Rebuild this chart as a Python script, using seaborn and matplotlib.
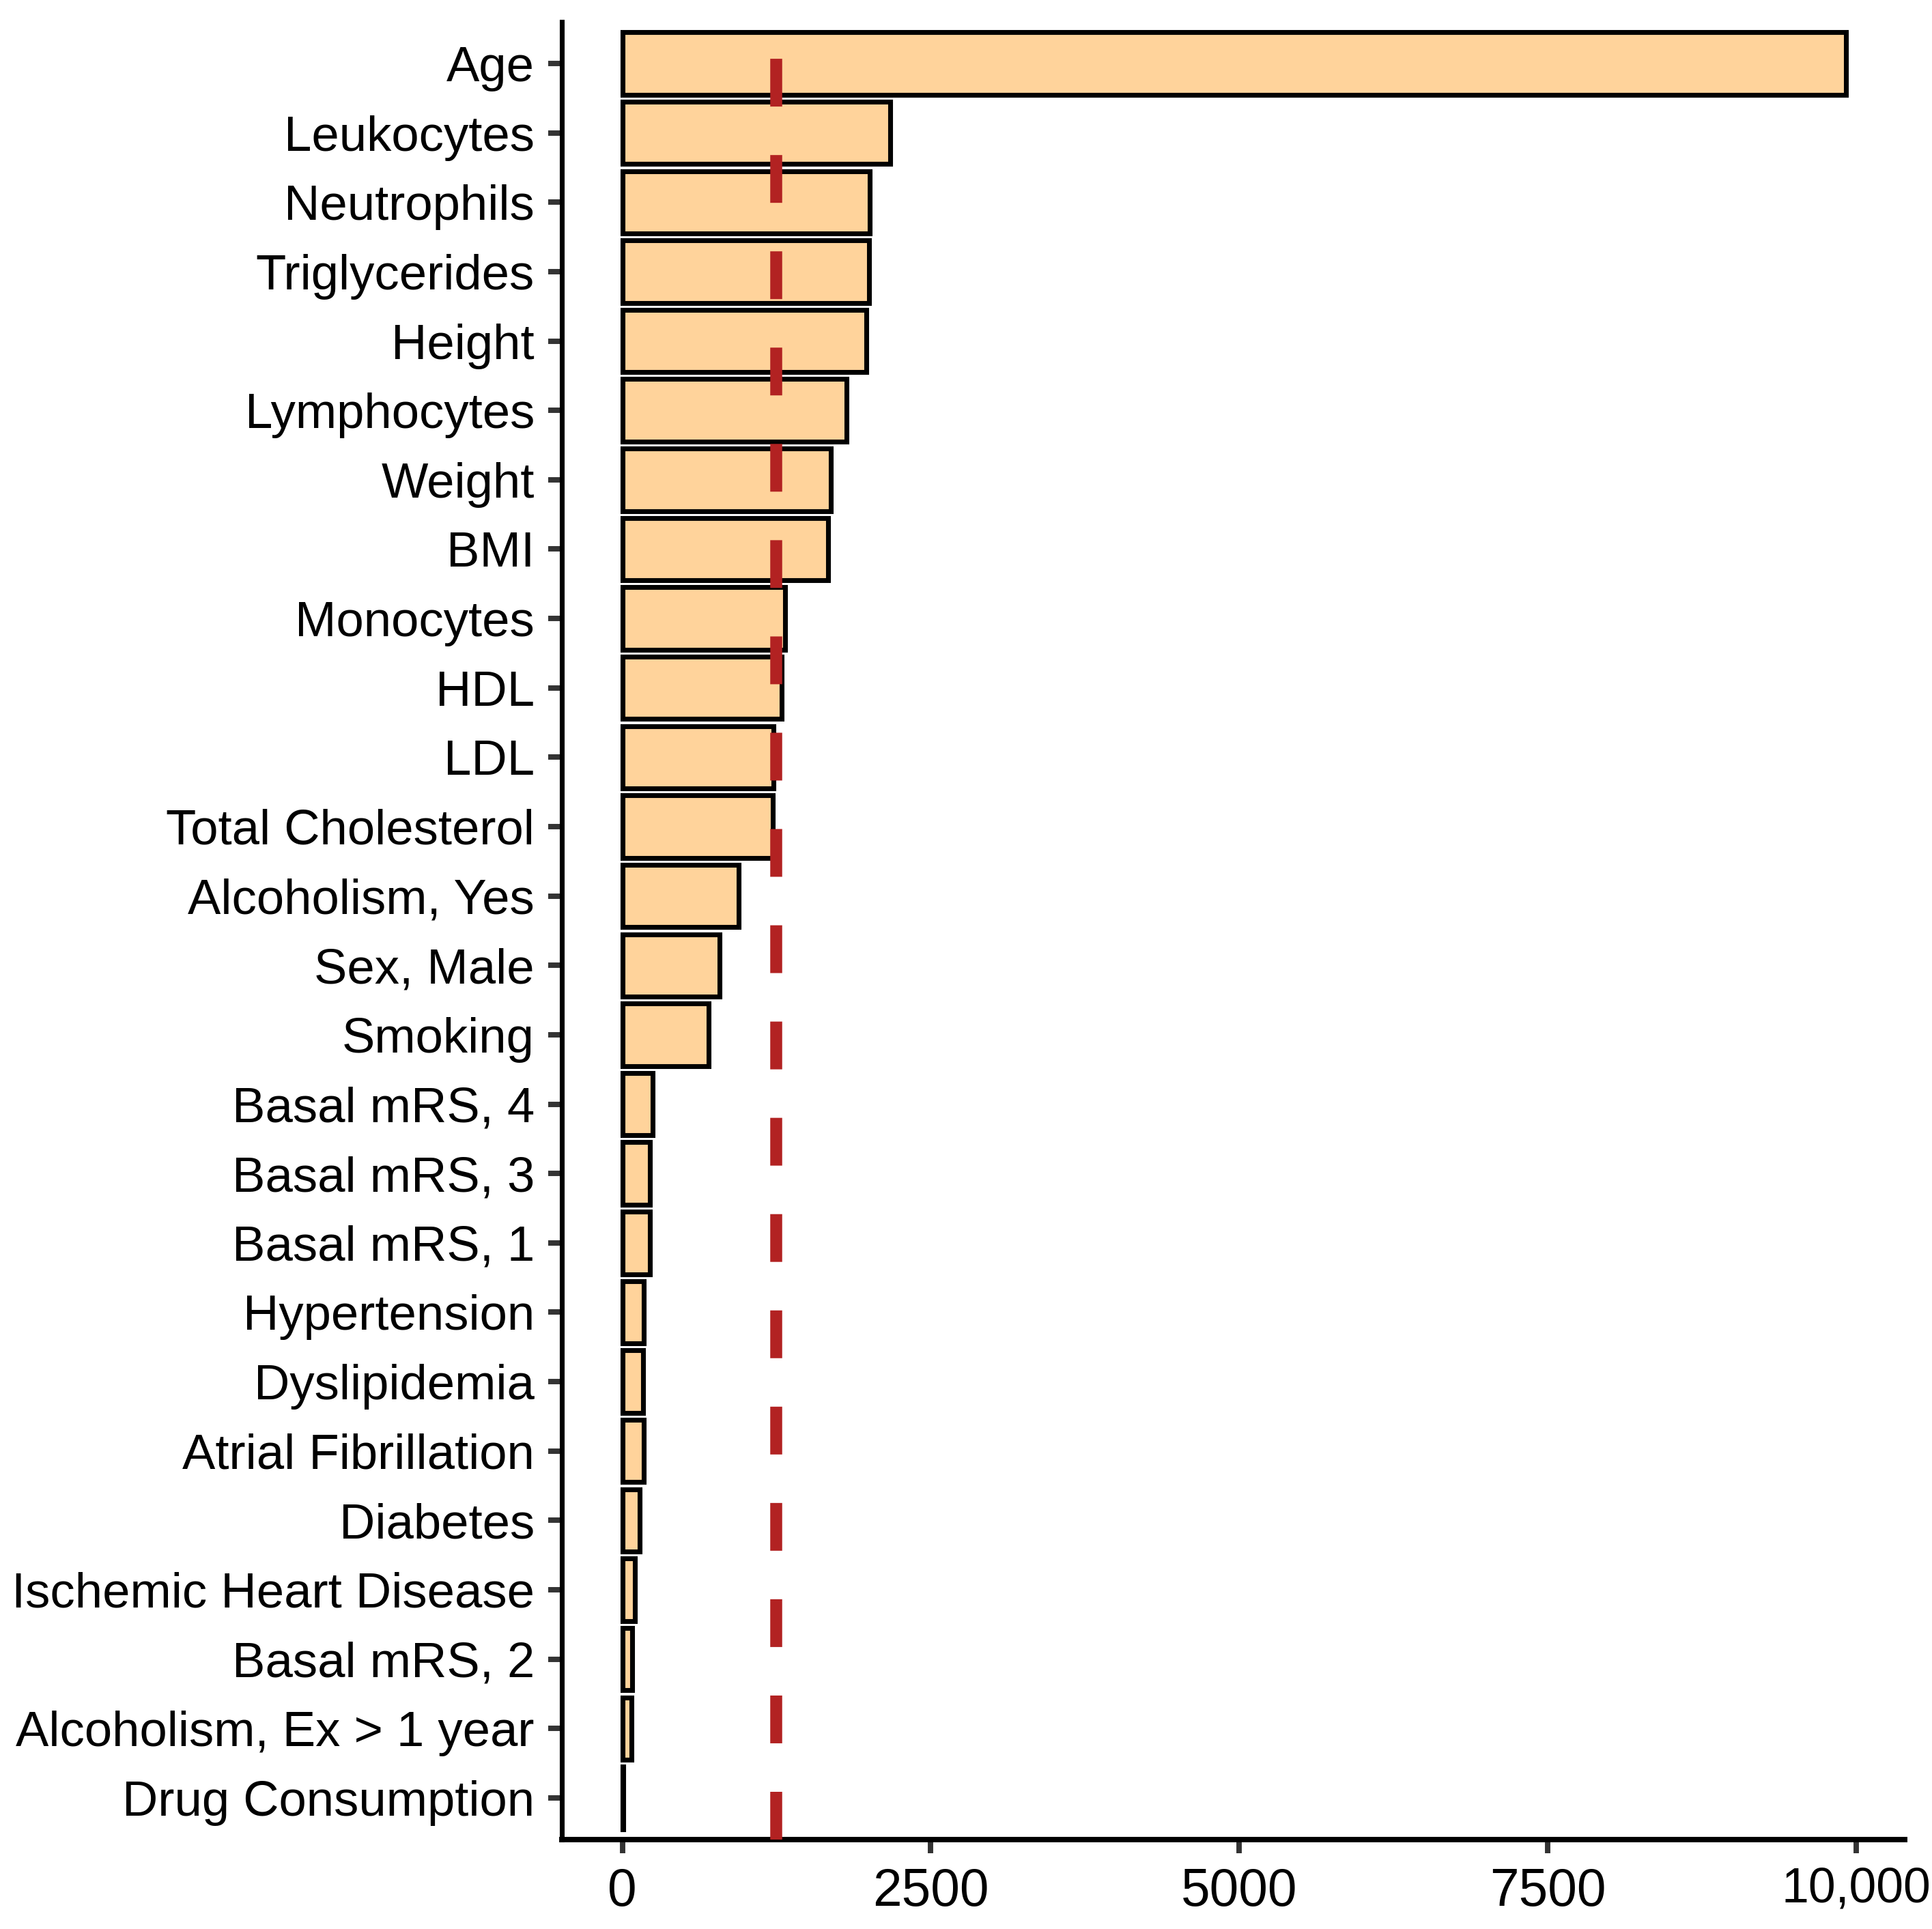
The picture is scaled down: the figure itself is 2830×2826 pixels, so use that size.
import matplotlib
matplotlib.use("Agg")
import matplotlib.pyplot as plt
import seaborn as sns
import pandas as pd

features = [
    "Age", "Leukocytes", "Neutrophils", "Triglycerides", "Height", "Lymphocytes",
    "Weight", "BMI", "Monocytes", "HDL", "LDL", "Total Cholesterol",
    "Alcoholism, Yes", "Sex, Male", "Smoking", "Basal mRS, 4", "Basal mRS, 3",
    "Basal mRS, 1", "Hypertension", "Dyslipidemia", "Atrial Fibrillation",
    "Diabetes", "Ischemic Heart Disease", "Basal mRS, 2",
    "Alcoholism, Ex > 1 year", "Drug Consumption",
]
importance = [
    9917, 2170, 2004, 2002, 1977, 1816,
    1689, 1667, 1318, 1290, 1224, 1218,
    944, 790, 698, 247, 226,
    226, 175, 169, 172,
    141, 105, 80,
    72, 10,
]
threshold = 1245
x_ticks = [0, 2500, 5000, 7500, 10000]
x_tick_labels = ["0", "2500", "5000", "7500", "10,000"]

df = pd.DataFrame({"feature": features, "importance": importance})

sns.set_style("white")
plt.rcParams["font.family"] = ["Liberation Sans", "DejaVu Sans"]

fig = plt.figure(figsize=(2830 / 300, 2826 / 300), dpi=300)
ax = fig.add_axes([0.2908, 0.0464, 0.9859 - 0.2908, 0.98868 - 0.0464])

sns.barplot(data=df, x="importance", y="feature", order=features,
            color="#FFD39B", saturation=1, edgecolor="black", linewidth=1.7,
            width=0.9, orient="h", ax=ax)

ax.axvline(threshold, color="#B22222", lw=4.2, linestyle=(0, (4.0, 4.06)),
           zorder=5)

ax.set_xlim(-490, 10395)
ax.set_ylim(len(features) - 1 + 0.6, -0.6)
ax.set_xticks(x_ticks)
ax.set_xticklabels(x_tick_labels)
ax.set_xlabel("")
ax.set_ylabel("")

for s in ["top", "right"]:
    ax.spines[s].set_visible(False)
ax.spines["left"].set_linewidth(1.7)
ax.spines["bottom"].set_linewidth(1.9)
ax.spines["left"].set_color("black")
ax.spines["bottom"].set_color("black")

ax.tick_params(axis="y", length=4.8, width=1.9, color="#333333", pad=4.8,
               labelsize=17.4, labelcolor="black", left=True)
ax.tick_params(axis="x", length=4.8, width=1.9, color="#333333", pad=4.8,
               labelsize=18.4, labelcolor="black", bottom=True)
ax.grid(False)

# keep the last x label inside the figure edge, as in the reference
ax.get_xticklabels()[-1].set_fontsize(17.2)

fig.savefig("out.png", dpi=300)
